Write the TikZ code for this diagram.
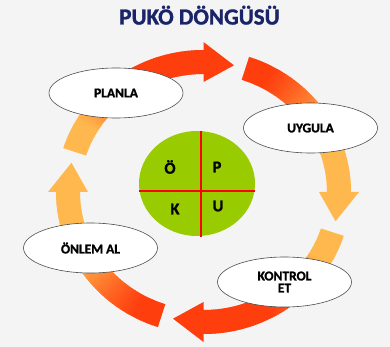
\documentclass[tikz,border=0pt]{standalone}
\usepackage{fontspec}
\setmainfont{Carlito}[BoldFont={Carlito Bold}]
\newfontfamily\heavy{Carlito Bold}[FakeBold=1.3]
\usetikzlibrary{shapes.geometric}
\definecolor{bg}{RGB}{244,244,244}
\definecolor{hot}{RGB}{255,62,14}
\definecolor{warm}{RGB}{255,184,78}
\definecolor{navy}{RGB}{26,36,104}
\definecolor{leaf}{RGB}{153,204,0}
\tikzset{
  declare function={px(\a,\o)=203.5+(135.5+\o)*cos(\a); py(\a,\o)=192-(130+\o)*sin(\a);},
  lbl/.style={ellipse, draw=black!70, line width=0.6pt, fill=white, minimum width=134pt, minimum height=50pt, inner sep=0pt, font=\fontsize{13.5}{12}\selectfont\heavy, align=center},
  quad/.style={font=\fontsize{16.5}{16}\selectfont\heavy, inner sep=0pt},
  divider/.style={draw=red, line width=1.1pt}
}
\begin{document}
\begin{tikzpicture}[x=1pt,y=-1pt]
\useasboundingbox (0,0) rectangle (390,347);
\fill[bg] (0,0) rectangle (390,347);
% title
\node[anchor=base, text=navy, font=\fontsize{23}{24}\selectfont\heavy, inner sep=0pt] (title) at (199.5,24.5) {PUKÖ DÖNGÜSÜ};
% ring arrows
\foreach \T in {162,72,-18,-108}{
  \foreach \i in {0,...,71}{
    \pgfmathsetmacro\a{\T-\i}
    \pgfmathsetmacro\b{\a-1.5}
    \pgfmathtruncatemacro\p{max(0,min(100,(abs(sin(\a))-0.5)/0.38*100))}
    \fill[hot!\p!warm] ({px(\a,-12)},{py(\a,-12)}) -- ({px(\a,12)},{py(\a,12)}) -- ({px(\b,12)},{py(\b,12)}) -- ({px(\b,-12)},{py(\b,-12)}) -- cycle;
  }
  \pgfmathsetmacro\B{\T-72}
  \pgfmathsetmacro\P{\T-85}
  \pgfmathtruncatemacro\q{max(0,min(100,(abs(sin(\B))-0.5)/0.38*100))}
  \fill[hot!\q!warm] ({px(\B,-20)},{py(\B,-20)}) -- ({px(\B,20)},{py(\B,20)}) -- ({px(\P,0)},{py(\P,0)}) -- cycle;
}
% labels
\node[lbl] (plan) at (116,93) {PLANLA};
\node[lbl] (uyg) at (310.5,128) {UYGULA};
\node[lbl] (onlem) at (90.5,248) {ÖNLEM AL};
\node[lbl] (kont) at (284.5,282) {KONTROL\\ET};
% centre circle
\node[ellipse, fill=leaf, minimum width=116pt, minimum height=105pt, inner sep=0pt] (circ) at (197,183.5) {};
\coordinate (vt) at (201,131);
\coordinate (vb) at (201,237);
\coordinate (hl) at (139,191);
\coordinate (hr) at (255,191);
\draw[divider] (vt) -- (vb);
\draw[divider] (hl) -- (hr);
\node[quad] (qo) at (170,167) {Ö};
\node[quad] (qp) at (217,167) {P};
\node[quad] (qk) at (175,209) {K};
\node[quad] (qu) at (218,206) {U};
\end{tikzpicture}
\end{document}
